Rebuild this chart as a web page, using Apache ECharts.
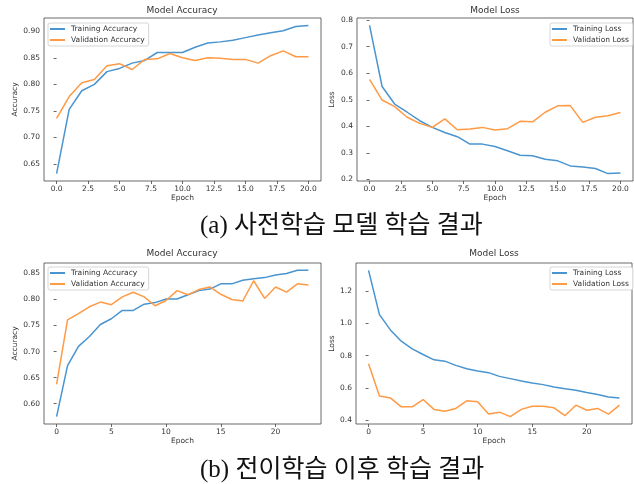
<!DOCTYPE html>
<html>
<head>
<meta charset="utf-8">
<script src="https://cdn.jsdelivr.net/npm/echarts@6/dist/echarts.min.js"></script>
<style>
  html, body { margin: 0; padding: 0; background: #fff; }
  #main { width: 634px; height: 484px; }
</style>
</head>
<body>
<div id="main"></div>
<script>
  // (a) pre-trained model, epochs 0..20
  var epochsA = [0, 1, 2, 3, 4, 5, 6, 7, 8, 9, 10, 11, 12, 13, 14, 15, 16, 17, 18, 19, 20];
  var trainAccA = [0.632, 0.753, 0.788, 0.800, 0.824, 0.830, 0.840, 0.845, 0.860, 0.860, 0.860,
                   0.870, 0.878, 0.880, 0.883, 0.888, 0.893, 0.897, 0.901, 0.909, 0.911];
  var valAccA = [0.736, 0.777, 0.803, 0.809, 0.835, 0.839, 0.828, 0.847, 0.848, 0.858, 0.850,
                 0.845, 0.850, 0.849, 0.847, 0.847, 0.840, 0.854, 0.863, 0.852, 0.852];
  var trainLossA = [0.780, 0.550, 0.484, 0.453, 0.421, 0.396, 0.377, 0.361, 0.333, 0.333, 0.324,
                    0.308, 0.291, 0.289, 0.276, 0.270, 0.251, 0.247, 0.241, 0.222, 0.224];
  var valLossA = [0.577, 0.499, 0.474, 0.434, 0.411, 0.396, 0.428, 0.387, 0.390, 0.396, 0.386,
                  0.391, 0.419, 0.417, 0.453, 0.477, 0.478, 0.415, 0.434, 0.440, 0.452];

  // (b) after transfer learning, epochs 0..23
  var epochsB = [0, 1, 2, 3, 4, 5, 6, 7, 8, 9, 10, 11, 12, 13, 14, 15, 16, 17, 18, 19, 20, 21, 22, 23];
  var trainAccB = [0.575, 0.673, 0.710, 0.729, 0.752, 0.763, 0.779, 0.779, 0.791, 0.794, 0.801, 0.801,
                   0.809, 0.817, 0.820, 0.830, 0.830, 0.837, 0.840, 0.842, 0.847, 0.850, 0.856, 0.856];
  var valAccB = [0.637, 0.761, 0.773, 0.786, 0.795, 0.790, 0.805, 0.814, 0.805, 0.788, 0.798, 0.817,
                 0.809, 0.819, 0.824, 0.810, 0.800, 0.797, 0.836, 0.802, 0.824, 0.814, 0.830, 0.828];
  var trainLossB = [1.327, 1.053, 0.959, 0.889, 0.842, 0.807, 0.774, 0.766, 0.740, 0.719, 0.705, 0.695,
                    0.672, 0.658, 0.643, 0.631, 0.621, 0.607, 0.596, 0.586, 0.572, 0.560, 0.545, 0.539];
  var valLossB = [0.750, 0.551, 0.539, 0.484, 0.484, 0.529, 0.468, 0.457, 0.474, 0.521, 0.515, 0.439,
                  0.451, 0.423, 0.468, 0.488, 0.488, 0.478, 0.429, 0.494, 0.463, 0.474, 0.439, 0.494];

  // tick labels
  var xTicksA = [0, 2.5, 5, 7.5, 10, 12.5, 15, 17.5, 20];
  var xTicksB = [0, 5, 10, 15, 20];
  var yTicksAccA = [0.65, 0.70, 0.75, 0.80, 0.85, 0.90];
  var yTicksLossA = [0.2, 0.3, 0.4, 0.5, 0.6, 0.7, 0.8];
  var yTicksAccB = [0.60, 0.65, 0.70, 0.75, 0.80, 0.85];
  var yTicksLossB = [0.4, 0.6, 0.8, 1.0, 1.2];

  var captionA = '(a) 사전학습 모델 학습 결과';
  var captionB = '(b) 전이학습 이후 학습 결과';

  var BLUE = '#4a94cf', ORANGE = '#ff9a45', TXT = '#333', FONT = 'DejaVu Sans';

  function pairs(xs, ys) { return xs.map(function (x, i) { return [x, ys[i]]; }); }
  function pad(arrs) { // matplotlib style 5% margins
    var all = [].concat.apply([], arrs);
    var lo = Math.min.apply(null, all), hi = Math.max.apply(null, all), m = (hi - lo) * 0.05;
    return [lo - m, hi + m];
  }

  var grids = [
    { left: 44, top: 18, width: 277, height: 163 },
    { left: 357, top: 18, width: 276, height: 163 },
    { left: 44, top: 263, width: 277, height: 161 },
    { left: 356, top: 263, width: 276, height: 161 }
  ];
  grids.forEach(function (g) { g.show = true; g.borderColor = '#444'; g.borderWidth = 0.8; g.backgroundColor = 'transparent'; });

  function xAx(i, xs, ticks, dec) {
    var r = pad([xs]);
    return {
      type: 'value', gridIndex: i, min: r[0], max: r[1], name: 'Epoch',
      nameLocation: 'middle', nameGap: 13, nameTextStyle: { fontFamily: FONT, fontSize: 7.5, color: TXT },
      axisLine: { show: false }, splitLine: { show: false },
      axisTick: { show: true, length: 3, customValues: ticks, lineStyle: { color: '#444', width: 0.8 } },
      axisLabel: { customValues: ticks, fontFamily: FONT, fontSize: 7.5, color: TXT, margin: 4,
        formatter: function (v) { return v.toFixed(dec); } }
    };
  }
  function yAx(i, arrs, ticks, dec, name, gap) {
    var r = pad(arrs);
    return {
      type: 'value', gridIndex: i, min: r[0], max: r[1], name: name,
      nameLocation: 'middle', nameGap: gap, nameTextStyle: { fontFamily: FONT, fontSize: 7.5, color: TXT },
      axisLine: { show: false }, splitLine: { show: false },
      axisTick: { show: true, length: 3, customValues: ticks, lineStyle: { color: '#444', width: 0.8 } },
      axisLabel: { customValues: ticks, fontFamily: FONT, fontSize: 7.5, color: TXT, margin: 4,
        formatter: function (v) { return v.toFixed(dec); } }
    };
  }
  function line(name, i, xs, ys, color) {
    return { name: name, type: 'line', xAxisIndex: i, yAxisIndex: i, data: pairs(xs, ys),
      showSymbol: false, lineStyle: { color: color, width: 1.5 }, itemStyle: { color: color }, animation: false };
  }
  function legend(names, left, top) {
    return { data: names, orient: 'vertical', left: left, top: top, itemWidth: 15, itemHeight: 2, itemGap: 1,
      icon: 'rect', padding: [1, 4, 1, 2], borderColor: '#ccc', borderWidth: 0.8, borderRadius: 2,
      backgroundColor: '#fff',
      textStyle: { fontFamily: FONT, fontSize: 7.5, color: TXT, lineHeight: 10, padding: [0, 0, 0, 1] } };
  }
  function title(text, x, y) {
    return { type: 'text', x: x, y: y, style: { text: text, fontFamily: FONT, fontSize: 9, fill: TXT,
      textAlign: 'center', textVerticalAlign: 'middle' } };
  }
  function caption(text, y) {
    return { type: 'text', x: 200, y: y, style: { text: text, fontFamily: '"Liberation Serif", "Noto Sans CJK KR"',
      fontSize: 25, fill: '#111', textAlign: 'left', textVerticalAlign: 'middle' } };
  }

  var chart = echarts.init(document.getElementById('main'), null, { renderer: 'canvas' });
  chart.setOption({
    animation: false,
    grid: grids,
    xAxis: [xAx(0, epochsA, xTicksA, 1), xAx(1, epochsA, xTicksA, 1), xAx(2, epochsB, xTicksB, 0), xAx(3, epochsB, xTicksB, 0)],
    yAxis: [
      yAx(0, [trainAccA, valAccA], yTicksAccA, 2, 'Accuracy', 25),
      yAx(1, [trainLossA, valLossA], yTicksLossA, 1, 'Loss', 21),
      yAx(2, [trainAccB, valAccB], yTicksAccB, 2, 'Accuracy', 25),
      yAx(3, [trainLossB, valLossB], yTicksLossB, 1, 'Loss', 19)
    ],
    legend: [
      legend(['Training Accuracy', 'Validation Accuracy'], 48, 23),
      legend(['Training Loss', 'Validation Loss'], 550, 23),
      legend(['Training Accuracy', 'Validation Accuracy'], 48, 267),
      legend(['Training Loss', 'Validation Loss'], 550, 267)
    ],
    series: [
      line('Training Accuracy', 0, epochsA, trainAccA, BLUE),
      line('Validation Accuracy', 0, epochsA, valAccA, ORANGE),
      line('Training Loss', 1, epochsA, trainLossA, BLUE),
      line('Validation Loss', 1, epochsA, valLossA, ORANGE),
      line('Training Accuracy', 2, epochsB, trainAccB, BLUE),
      line('Validation Accuracy', 2, epochsB, valAccB, ORANGE),
      line('Training Loss', 3, epochsB, trainLossB, BLUE),
      line('Validation Loss', 3, epochsB, valLossB, ORANGE)
    ],
    graphic: [
      title('Model Accuracy', 182, 11),
      title('Model Loss', 495, 11),
      title('Model Accuracy', 182, 254),
      title('Model Loss', 494, 254),
      caption(captionA, 226),
      caption(captionB, 470)
    ]
  });
</script>
</body>
</html>
